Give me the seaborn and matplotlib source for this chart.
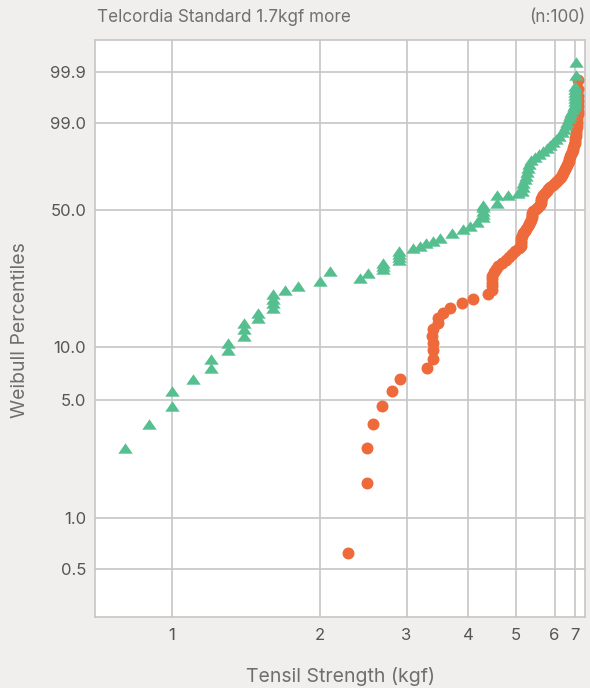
import numpy as np
import pandas as pd
import matplotlib
matplotlib.use("Agg")
import matplotlib.pyplot as plt
from matplotlib.ticker import NullLocator
import seaborn as sns

sns.set_theme(style="white")
plt.rcParams["font.family"] = ["Inter", "DejaVu Sans"]

# ---------------- data ----------------
green_strength = [
    0.802, 0.899, 1.00, 1.00, 1.102, 1.20, 1.20, 1.30, 1.30, 1.399,
    1.399, 1.399, 1.498, 1.498, 1.602, 1.602, 1.602, 1.602, 1.697, 1.804,
    2.000, 2.096, 2.412, 2.507, 2.690, 2.690, 2.690, 2.900, 2.900, 2.900,
    2.900, 3.087, 3.194, 3.285, 3.401, 3.508, 3.706, 3.912, 4.037, 4.166,
    4.297, 4.297, 4.297, 4.297, 4.297, 4.575, 4.575, 4.831, 5.054, 5.142,
    5.162, 5.182, 5.211, 5.236, 5.260, 5.284, 5.309, 5.372, 5.474, 5.577,
    5.682, 5.790, 5.872, 5.956, 6.039, 6.124, 6.211, 6.270, 6.314, 6.358,
    6.404, 6.449, 6.479, 6.525, 6.556, 6.601, 6.601, 6.601, 6.601, 6.601,
    6.601, 6.601, 6.632, 6.616,
]
green_percentile = [
    2.62, 3.62, 4.61, 5.61, 6.61, 7.61, 8.60, 9.60, 10.60, 11.60,
    12.59, 13.59, 14.59, 15.59, 16.58, 17.58, 18.58, 19.58, 20.57, 21.57,
    23.1, 26.0, 23.9, 25.4, 26.56, 27.56, 28.55, 29.55, 30.55, 31.55,
    32.54, 33.54, 34.54, 35.54, 36.53, 37.53, 39.8, 41.2, 42.7, 44.6,
    46.9, 48.3, 49.7, 51.2, 52.4, 53.2, 57.3, 57.3, 58.3, 59.3,
    61.4, 63.4, 65.2, 66.9, 68.9, 70.9, 72.8, 74.8, 76.2, 77.6,
    79.0, 80.3, 81.6, 82.9, 84.1, 85.3, 86.8, 87.8, 89.2, 90.2,
    91.4, 92.2, 93.0, 93.8, 94.4, 94.9, 95.5, 96.0, 96.5, 97.0,
    97.4, 97.8, 98.8, 99.5,
]

orange_strength = [
    2.284, 2.489, 2.489, 2.564, 2.677, 2.805, 2.902, 3.305, 3.387, 3.387,
    3.387, 3.375, 3.387, 3.479, 3.479, 3.561, 3.675, 3.883, 4.100, 4.386,
    4.469, 4.469, 4.469, 4.477, 4.485, 4.517, 4.549, 4.603, 4.690, 4.768,
    4.835, 4.904, 4.974, 5.068, 5.127, 5.127, 5.127, 5.134, 5.144, 5.175,
    5.211, 5.248, 5.284, 5.314, 5.347, 5.372, 5.384, 5.397, 5.404, 5.434,
    5.498, 5.558, 5.590, 5.616, 5.630, 5.630, 5.643, 5.682, 5.736, 5.777,
    5.818, 5.872, 5.941, 5.997, 6.067, 6.124, 6.168, 6.211, 6.240, 6.270,
    6.300, 6.329, 6.350, 6.380, 6.404, 6.428, 6.449, 6.479, 6.510, 6.531,
    6.549, 6.571, 6.586, 6.601, 6.610, 6.623, 6.632, 6.641, 6.647, 6.654,
    6.663, 6.672, 6.685, 6.695, 6.695, 6.704, 6.704, 6.704, 6.704,
]
orange_percentile = [
    0.62, 1.62, 2.62, 3.62, 4.61, 5.61, 6.61, 7.61, 8.60, 9.60,
    10.60, 11.60, 12.59, 13.59, 14.59, 15.59, 16.58, 17.58, 18.58, 19.58,
    20.57, 21.57, 22.57, 23.57, 24.56, 25.56, 26.56, 27.56, 28.55, 29.55,
    30.55, 31.55, 32.54, 33.54, 34.54, 35.54, 36.53, 37.53, 38.53, 39.53,
    40.52, 41.52, 42.52, 43.52, 44.51, 45.51, 46.51, 47.51, 48.50, 49.50,
    50.50, 51.50, 52.49, 53.49, 54.49, 55.49, 56.48, 57.48, 58.48, 59.48,
    60.47, 61.47, 62.47, 63.47, 64.46, 65.46, 66.46, 67.46, 68.45, 69.45,
    70.45, 71.45, 72.44, 73.44, 74.44, 75.44, 76.43, 77.43, 78.43, 79.43,
    80.42, 81.42, 82.42, 83.42, 84.41, 85.41, 86.41, 87.41, 88.40, 89.40,
    90.40, 91.40, 92.39, 93.39, 94.39, 95.39, 96.38, 97.38, 98.38,
]

x_tick_values = [1, 2, 3, 4, 5, 6, 6.59]
x_tick_labels = ["1", "2", "3", "4", "5", "6", "7"]
y_tick_values = [0.5, 1, 5, 10, 50, 90, 99]
y_tick_labels = ["0.5", "1.0", "5.0", "10.0", "50.0", "99.0", "99.9"]

title_left = "Telcordia Standard 1.7kgf more"
title_right = "(n:100)"
x_label = "Tensil Strength (kgf)"
y_label = "Weibull Percentiles"

GREEN = "#55BF8F"
ORANGE = "#EF6A3A"
BG = "#F0EFED"
GRID = "#C6C6C6"

df_g = pd.DataFrame({"strength": green_strength, "pct": green_percentile})
df_o = pd.DataFrame({"strength": orange_strength, "pct": orange_percentile})

# ---------------- figure ----------------
W, H = 590, 688
fig = plt.figure(figsize=(W / 100, H / 100), dpi=100, facecolor=BG)
ax = fig.add_axes([94.5 / W, (H - 617) / H, 490 / W, 577 / H])
ax.set_facecolor("white")

tri = [(0, 0.72), (-1, -0.72), (1, -0.72), (0, 0.72)]

sns.scatterplot(data=df_o, x="strength", y="pct", ax=ax, color=ORANGE,
                marker="o", s=74, linewidth=0, legend=False, zorder=3)
sns.scatterplot(data=df_g, x="strength", y="pct", ax=ax, color=GREEN,
                marker=tri, s=108, linewidth=0, legend=False, zorder=4)


def fwd(p):
    p = np.clip(np.asarray(p, dtype=float), 1e-9, 100 - 1e-9)
    return np.log(-np.log(1 - p / 100.0))


def inv(w):
    w = np.asarray(w, dtype=float)
    return 100.0 * (1 - np.exp(-np.exp(w)))


ax.set_xscale("log")
ax.set_yscale("function", functions=(fwd, inv))
ax.set_xlim(0.6958, 6.900)
ax.set_ylim(float(inv(-5.955)), float(inv(1.9677)))

ax.set_xticks(x_tick_values)
ax.set_xticklabels(x_tick_labels)
ax.set_yticks(y_tick_values)
ax.set_yticklabels(y_tick_labels)
ax.xaxis.set_minor_locator(NullLocator())
ax.yaxis.set_minor_locator(NullLocator())

ax.grid(True, color=GRID, linewidth=1.2)
ax.set_axisbelow(True)
for sp in ax.spines.values():
    sp.set_color(GRID)
    sp.set_linewidth(1.2)

ax.tick_params(axis="both", length=0, labelsize=12, labelcolor="#555555")
ax.tick_params(axis="x", pad=8)
ax.tick_params(axis="y", pad=6)

ax.set_xlabel(x_label, fontsize=14, color="#6E6E6E", va="center")
ax.xaxis.set_label_coords((340 - 94.5) / 490, (617 - 677) / 577)
ax.set_ylabel(y_label, fontsize=14, color="#6E6E6E", va="center")
ax.yaxis.set_label_coords((20 - 94.5) / 490, (617 - 330) / 577)

fig.text(97 / W, 1 - 18 / H, title_left, ha="left", va="center",
         fontsize=12.3, color="#707070")
fig.text(585 / W, 1 - 18 / H, title_right, ha="right", va="center",
         fontsize=12.3, color="#707070")

fig.savefig("out.png", dpi=100, facecolor=BG)
